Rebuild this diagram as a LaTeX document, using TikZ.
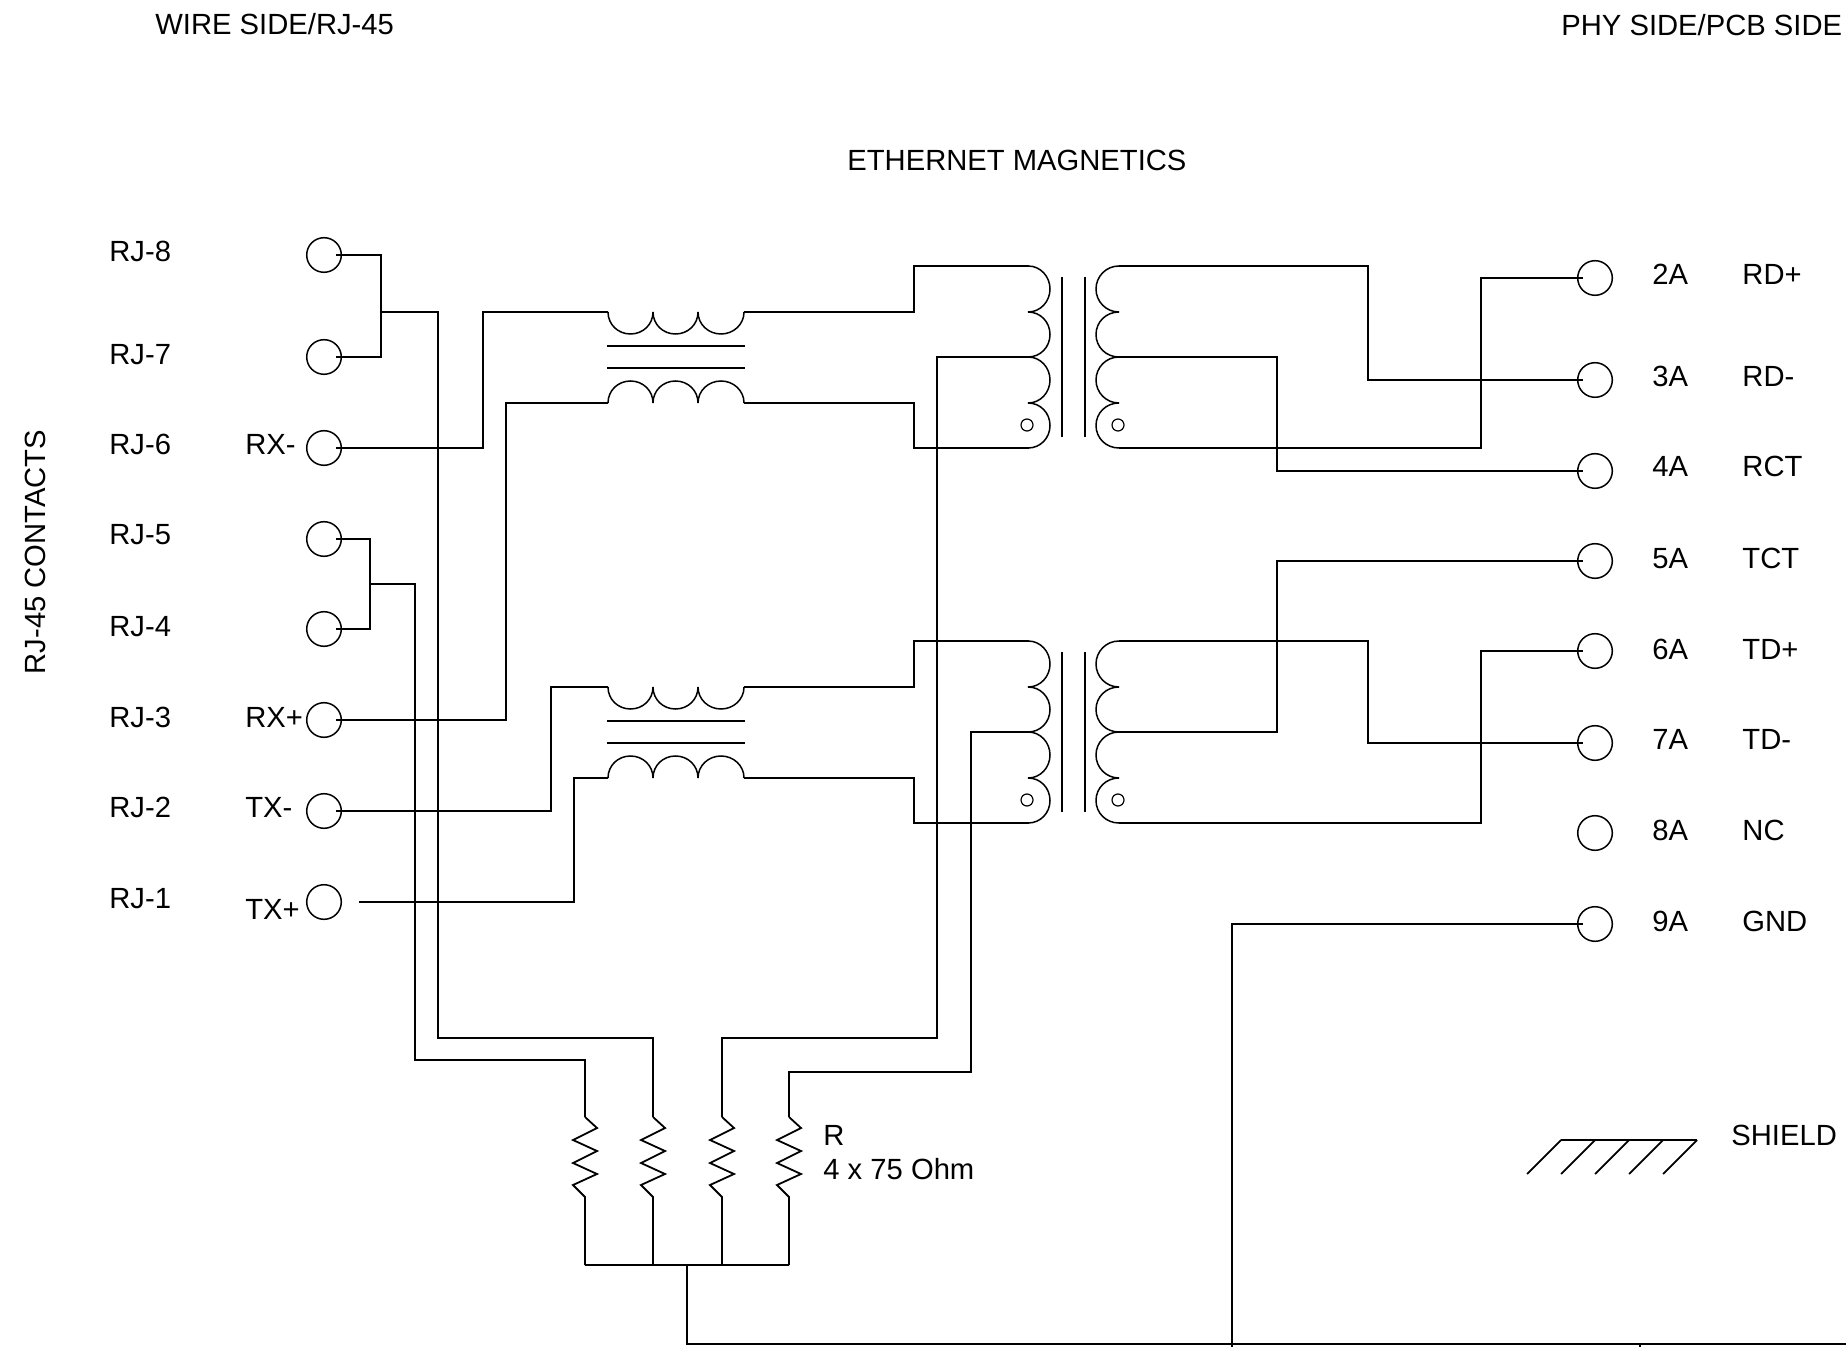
\documentclass[tikz,border=0pt]{standalone}
\usepackage{fontspec}
\setmainfont{Liberation Sans}
\usetikzlibrary{positioning}

\begin{document}
\begin{tikzpicture}[x=0.5pt, y=-0.5pt,
    contact/.style={draw, circle, minimum size=17.3pt, inner sep=0pt, line width=0.75pt},
    tiny/.style={draw, circle, minimum size=6pt, inner sep=0pt, line width=0.6pt},
    wire/.style={line width=0.9pt, line join=miter},
    coil/.style={line width=0.75pt},
    label/.style={anchor=base west, inner sep=0pt, font=\fontsize{14.6}{16}\selectfont}
    ]
    \useasboundingbox (0,0) rectangle (1846,1347);

    \node[label] (wireside) at (155,35) {WIRE SIDE/RJ-45};
    \node[label] (physide) at (1561,36) {PHY SIDE/PCB SIDE};
    \node[label] (title) at (847,171) {ETHERNET MAGNETICS};
    \node[label, anchor=center, rotate=90] (contacts) at (35,552) {RJ-45 CONTACTS};

    \foreach \pin/\y/\ty in {8/255/262,7/357/365,6/448/455,5/539/545,4/629/636,3/720/727,2/811/817,1/902/908} {
      \node[contact] (rj\pin) at (324,\y) {};
      \node[label] (rjtext\pin) at (109,\ty) {RJ-\pin};
    };
    \node[label] (rxm) at (245,455) {RX-};
    \node[label] (rxp) at (245,727) {RX+};
    \node[label] (txm) at (245,817) {TX-};
    \node[label] (txp) at (245,919) {TX+};

    \foreach \pin/\y/\ty/\sig in {2/278/285/RD+,3/380/387/RD-,4/471/477/RCT,5/561/568/TCT,6/651/659/TD+,7/743/749/TD-,8/833/840/NC,9/924/931/GND} {
      \node[contact] (pin\pin) at (1595,\y) {};
      \node[label] (pintext\pin) at (1652,\ty) {\pin A};
      \node[label] (sig\pin) at (1742,\ty) {\sig};
    };

    \foreach \t/\o in {a/0,b/375} {
      \coordinate (\t cl1) at (608,312+\o);
      \coordinate (\t cr1) at (744,312+\o);
      \coordinate (\t cl2) at (608,403+\o);
      \coordinate (\t cr2) at (744,403+\o);
      \coordinate (\t p1) at (1029,266+\o);
      \coordinate (\t p2) at (1029,357+\o);
      \coordinate (\t p3) at (1029,448+\o);
      \coordinate (\t s1) at (1119,266+\o);
      \coordinate (\t s2) at (1119,357+\o);
      \coordinate (\t s3) at (1119,448+\o);

      \foreach \xa/\xm/\xb in {608/630.5/653,653/675.5/698,698/721/744} {
        \draw[coil] (\xa,312+\o) .. controls +(0,12.5) and +(-12.5,0) .. (\xm,334+\o) .. controls +(12.5,0) and +(0,12.5) .. (\xb,312+\o);
        \draw[coil] (\xa,403+\o) .. controls +(0,-12.5) and +(-12.5,0) .. (\xm,381+\o) .. controls +(12.5,0) and +(0,-12.5) .. (\xb,403+\o);
      };
      \draw[wire] (607,346+\o) to (745,346+\o);
      \draw[wire] (607,368+\o) to (745,368+\o);

      \foreach \ya/\ym/\yb in {266/289/312,312/334.5/357,357/380/403,403/425.5/448} {
        \draw[coil] (1028,\ya+\o) .. controls +(12.5,0) and +(0,-12.5) .. (1050,\ym+\o) .. controls +(0,12.5) and +(12.5,0) .. (1028,\yb+\o);
        \draw[coil] (1119,\ya+\o) .. controls +(-13,0) and +(0,-12.5) .. (1096,\ym+\o) .. controls +(0,12.5) and +(-13,0) .. (1119,\yb+\o);
      };
      \draw[coil] (1062,277+\o) to (1062,437+\o);
      \draw[coil] (1085,277+\o) to (1085,437+\o);
      \node[tiny] (\t dotl) at (1027,425+\o) {};
      \node[tiny] (\t dotr) at (1118,425+\o) {};
    };

    \foreach \res/\x in {1/585,2/653,3/722,4/789} {
      \coordinate (r\res top) at (\x,1117);
      \coordinate (r\res bot) at (\x,1265);
      \draw[wire] (r\res top) -- (\x+12,1128) -- (\x-12,1140) -- (\x+12,1151) -- (\x-12,1163) -- (\x+12,1174) -- (\x-12,1185) -- (\x,1197) -- (r\res bot);
    };
    \node[label] (rname) at (823,1145) {R};
    \node[label] (rvalue) at (823,1179) {4 x 75 Ohm};

    \draw[wire] (r1bot) to (r4bot);

    % wire side
    \coordinate (bus87) at (381,312);
    \coordinate (bus54) at (370,584);
    \draw[wire] ([xshift=-3pt]rj8.east) -| (bus87) |- ([xshift=-3pt]rj7.east);
    \draw[wire] (bus87) -- (438,312) -- (438,1038) -| (r2top);
    \draw[wire] ([xshift=-3pt]rj5.east) -| (bus54) |- ([xshift=-3pt]rj4.east);
    \draw[wire] (bus54) -- (415,584) -- (415,1060) -| (r1top);
    \draw[wire] ([xshift=-3pt]rj6.east) -- (483,448) |- (acl1);
    \draw[wire] ([xshift=-3pt]rj3.east) -- (506,720) |- (acl2);
    \draw[wire] ([xshift=-3pt]rj2.east) -- (551,811) |- (bcl1);
    \draw[wire] ([xshift=8.5pt]rj1.east) -- (574,902) |- (bcl2);

    % primary
    \foreach \t in {a,b} {
      \draw[wire] (\t cr1) -- ++(170,0) |- (\t p1);
      \draw[wire] (\t cr2) -- ++(170,0) |- (\t p3);
    };
    \draw[wire] (ap2) -- (937,357) -- (937,1038) -| (r3top);
    \draw[wire] (bp2) -- (971,732) -- (971,1072) -| (r4top);

    % secondary
    \draw[wire] (as1) -- (1368,266) |- ([xshift=3pt]pin3.west);
    \draw[wire] (as2) -- (1277,357) |- ([xshift=3pt]pin4.west);
    \draw[wire] (as3) -- (1481,448) |- ([xshift=3pt]pin2.west);
    \draw[wire] (bs1) -- (1368,641) |- ([xshift=3pt]pin7.west);
    \draw[wire] (bs2) -- (1277,732) |- ([xshift=3pt]pin5.west);
    \draw[wire] (bs3) -- (1481,823) |- ([xshift=3pt]pin6.west);

    % ground
    \coordinate (gndtap) at (687,1265);
    \coordinate (gndright) at (1846,1344);
    \draw[wire] (gndtap) |- (gndright);
    \draw[wire] ([xshift=3pt]pin9.west) -- (1232,924) -- (1232,1347);
    \draw[wire] (1640,1344) -- (1640,1347);

    \coordinate (shieldl) at (1561,1140);
    \coordinate (shieldr) at (1697,1140);
    \draw[wire] (shieldl) to (shieldr);
    \foreach \x in {1561,1595,1629,1663,1697} {
      \draw[wire] (\x,1140) to (\x-34,1174);
    };
    \node[label] (shield) at (1731,1145) {SHIELD};
\end{tikzpicture}
\end{document}
